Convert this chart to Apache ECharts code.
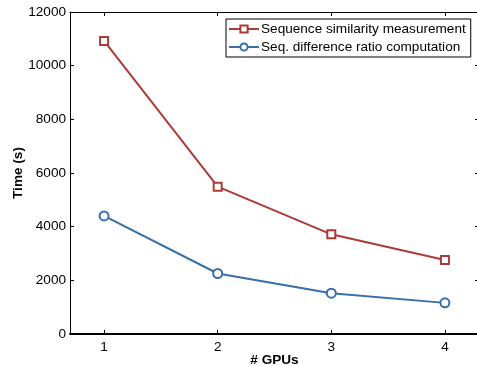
<!DOCTYPE html>
<html><head><meta charset="utf-8">
<script src="https://cdn.jsdelivr.net/npm/echarts@6/dist/echarts.min.js"></script>
<style>html,body{margin:0;padding:0;background:#fff}#c{width:477px;height:366px}</style>
</head><body><div id="c"></div>
<script>
const gpus = [1, 2, 3, 4];
const simValues = [10920, 5490, 3715, 2760];
const ratioValues = [4400, 2255, 1520, 1160];
const seriesNames = ['Sequence similarity measurement', 'Seq. difference ratio computation'];
const yTicks = [0, 2000, 4000, 6000, 8000, 10000, 12000];

const red = '#AC3B38', blue = '#386FA8';
const font = 'Liberation Sans, Arial, sans-serif';
const chart = echarts.init(document.getElementById('c'), null, {renderer: 'canvas'});
const tickStyle = {show: true, inside: true, length: 4, lineStyle: {color: '#000', width: 1}};
chart.setOption({
  animation: false,
  grid: {left: 70, top: 12, right: -2, bottom: 32, containLabel: false, outerBoundsMode: 'none'},
  legend: {
    left: 226, top: 19, orient: 'vertical',
    data: seriesNames,
    borderColor: '#000', borderWidth: 1, padding: [3, 5, 3, 2],
    itemWidth: 30, itemHeight: 9, itemGap: 4,
    textStyle: {fontFamily: font, fontSize: 13.6, color: '#000', padding: [0, 0, 0, -3]}
  },
  xAxis: [{
    type: 'value', min: 0.7, max: 4.3, position: 'bottom',
    axisLine: {show: true, onZero: false, lineStyle: {color: '#000', width: 2}},
    axisTick: {show: true, inside: true, length: 4, customValues: gpus, lineStyle: {color: '#000'}},
    axisLabel: {customValues: gpus, fontFamily: font, fontSize: 13.6, color: '#000', margin: 6},
    splitLine: {show: false},
    name: '# GPUs', nameLocation: 'middle', nameGap: 19, nameMoveOverlap: false,
    nameTextStyle: {fontFamily: font, fontSize: 13.6, fontWeight: 'bold', color: '#000'}
  }, {
    type: 'value', min: 0.7, max: 4.3, position: 'top',
    axisLine: {show: true, onZero: false, lineStyle: {color: '#000', width: 1}},
    axisTick: {show: true, inside: true, length: 4, customValues: gpus, lineStyle: {color: '#000'}},
    axisLabel: {show: false}, splitLine: {show: false}
  }],
  yAxis: [{
    type: 'value', min: 0, max: 12000, interval: 2000, position: 'left',
    axisLine: {show: true, onZero: false, lineStyle: {color: '#000', width: 1}},
    axisTick: tickStyle,
    axisLabel: {fontFamily: font, fontSize: 13.6, color: '#000', margin: 4,
      formatter: v => yTicks.includes(v) ? String(v) : ''},
    splitLine: {show: false},
    name: 'Time (s)', nameLocation: 'middle', nameGap: 45, nameMoveOverlap: false,
    nameTextStyle: {fontFamily: font, fontSize: 13.6, fontWeight: 'bold', color: '#000'}
  }, {
    type: 'value', min: 0, max: 12000, interval: 2000, position: 'right',
    axisLine: {show: true, onZero: false, lineStyle: {color: '#000', width: 1}},
    axisTick: tickStyle, axisLabel: {show: false}, splitLine: {show: false}
  }],
  series: [{
    name: seriesNames[0], type: 'line',
    data: gpus.map((g, i) => [g, simValues[i]]),
    symbol: 'rect', symbolSize: 8, showAllSymbol: true,
    lineStyle: {color: red, width: 2},
    itemStyle: {color: '#fff', borderColor: red, borderWidth: 2}
  }, {
    name: seriesNames[1], type: 'line',
    data: gpus.map((g, i) => [g, ratioValues[i]]),
    symbol: 'circle', symbolSize: 9, showAllSymbol: true,
    lineStyle: {color: blue, width: 2},
    itemStyle: {color: '#fff', borderColor: blue, borderWidth: 2}
  }]
});
</script></body></html>
